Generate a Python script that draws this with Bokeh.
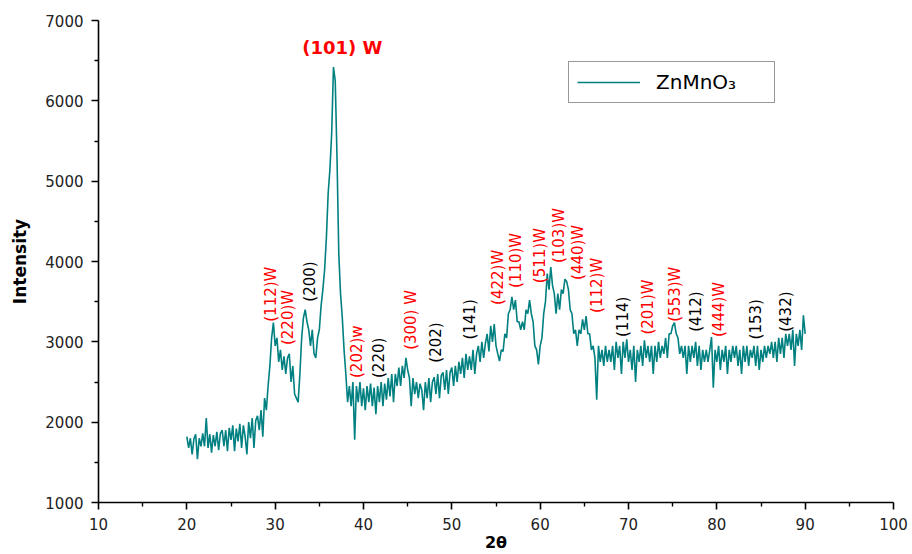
import numpy as np
from bokeh.plotting import figure
from bokeh.models import ColumnDataSource, Legend, LegendItem, FixedTicker
from bokeh.embed import file_html
from bokeh.resources import INLINE
from bokeh.core.properties import value

# ---- data (0.2 degree steps from 20 to 90) ----
two_theta = np.round(np.arange(20.0, 90.0001, 0.2), 1)
intensity = [
    1820, 1680, 1800, 1600, 1790,   # 20
    1850, 1540, 1800, 1700, 1860,   # 21
    1700, 2050, 1680, 1850, 1620,   # 22
    1840, 1700, 1880, 1650, 1860,   # 23
    1900, 1700, 1900, 1640, 1930,   # 24
    1780, 1960, 1640, 1920, 1760,   # 25
    1980, 1680, 1960, 1820, 1600,   # 26
    2000, 1800, 2050, 1680, 2020,   # 27
    2080, 1900, 2150, 1820, 2300,   # 28
    2150, 2450, 2700, 3050, 3240,   # 29
    2950, 3050, 2750, 2900, 2650,   # 30
    2820, 2600, 2800, 2850, 2500,   # 31
    2700, 2350, 2300, 2250, 2600,   # 32
    3050, 3300, 3400, 3250, 3150,   # 33
    2950, 3150, 2850, 2800, 3050,   # 34
    3150, 3450, 3650, 3900, 4300,   # 35
    4850, 5150, 5600, 6420, 6250,   # 36
    5300, 4100, 3600, 3300, 2900,   # 37
    2600, 2250, 2450, 2200, 2500,   # 38
    1780, 2450, 2250, 2500, 2200,   # 39
    2420, 2150, 2450, 2250, 2480,   # 40
    2200, 2430, 2100, 2450, 2250,   # 41
    2500, 2200, 2480, 2280, 2550,   # 42
    2320, 2600, 2250, 2600, 2450,   # 43
    2680, 2450, 2700, 2550, 2800,   # 44
    2650, 2550, 2200, 2550, 2350,   # 45
    2500, 2300, 2480, 2400, 2150,   # 46
    2500, 2300, 2550, 2250, 2500,   # 47
    2560, 2350, 2600, 2300, 2580,   # 48
    2620, 2400, 2650, 2350, 2620,   # 49
    2680, 2450, 2700, 2500, 2750,   # 50
    2600, 2800, 2550, 2850, 2650,   # 51
    2820, 2650, 2900, 2600, 2850,   # 52
    2950, 2750, 3000, 2800, 2980,   # 53
    3100, 2880, 3200, 3000, 3220,   # 54
    2950, 2850, 2760, 2900, 2880,   # 55
    3100, 3050, 3350, 3400, 3560,   # 56
    3400, 3520, 3250, 3250, 3150,   # 57
    3250, 3150, 3400, 3350, 3520,   # 58
    3350, 3250, 2950, 2900, 2720,   # 59
    2950, 3050, 3350, 3500, 3850,   # 60
    3650, 3930, 3700, 3600, 3350,   # 61
    3600, 3400, 3650, 3600, 3780,   # 62
    3750, 3650, 3400, 3350, 3100,   # 63
    3150, 2950, 3150, 3100, 3280,   # 64
    3150, 3320, 3100, 3100, 2900,   # 65
    2950, 2800, 2280, 2950, 2750,   # 66
    2900, 2700, 2950, 2750, 2900,   # 67
    2750, 2950, 2650, 3000, 2800,   # 68
    2950, 2600, 3000, 2800, 3030,   # 69
    2750, 2900, 2650, 2950, 2500,   # 70
    2900, 2750, 2950, 2700, 3020,   # 71
    2800, 2950, 2750, 2950, 2600,   # 72
    2950, 2750, 3000, 2800, 2950,   # 73
    2850, 3050, 2800, 3100, 3100,   # 74
    3200, 3240, 3100, 3050, 2850,   # 75
    2950, 2800, 2950, 2600, 2950,   # 76
    2750, 2950, 2800, 3000, 2700,   # 77
    2950, 2650, 2900, 2750, 2900,   # 78
    2750, 2900, 3060, 2430, 2900,   # 79
    2750, 2950, 2650, 2900, 2750,   # 80
    2950, 2600, 2900, 2750, 2950,   # 81
    2800, 2950, 2700, 2900, 2600,   # 82
    2950, 2750, 2950, 2700, 2900,   # 83
    2800, 2950, 2700, 2950, 2650,   # 84
    2900, 2750, 2950, 2800, 2950,   # 85
    2850, 3000, 2800, 3000, 2750,   # 86
    3050, 2850, 3050, 2800, 3100,   # 87
    2950, 3100, 2900, 3150, 2700,   # 88
    3100, 2950, 3150, 2900, 3330,   # 89
    3100,                           # 90
]
n = min(len(two_theta), len(intensity))
two_theta = two_theta[:n]
intensity = intensity[:n]

peak_text = ["(112)W", "(220)W", "(200)", "(202)w", "(220)", "(300) W", "(202)",
             "(141)", "(422)W", "(110)W", "(511)W", "(103)W", "(440)W", "(112)W",
             "(114)", "(201)W", "(553)W", "(412)", "(444)W", "(153)", "(432)"]
peak_x = [29.5, 31.5, 33.9, 39.3, 41.7, 45.4, 48.2,
          52.1, 55.2, 57.3, 60.0, 62.1, 64.3, 66.4,
          69.4, 72.2, 75.3, 77.6, 80.2, 84.4, 87.8]
peak_y = [3250, 2960, 3500, 2550, 2550, 2900, 2740,
          3030, 3460, 3670, 3730, 3980, 3770, 3360,
          3060, 3090, 3250, 3125, 3060, 3030, 3125]
peak_color = ["red", "red", "black", "red", "black", "red", "black",
              "black", "red", "red", "red", "red", "red", "red",
              "black", "red", "red", "black", "red", "black", "black"]

main_peak_text = ["(101) W"]
main_peak_x = [37.6]
main_peak_y = [6665]

x_ticks = list(range(10, 101, 10))
x_minor = list(range(15, 100, 10))
y_ticks = list(range(1000, 7001, 1000))
y_minor = list(range(1500, 7000, 1000))

series_name = "ZnMnO\u2083"

# ---- figure ----
p = figure(width=912, height=554, x_range=(10, 100), y_range=(1000, 7000),
           output_backend="svg", toolbar_location=None,
           min_border_left=98, min_border_right=19, min_border_top=20, min_border_bottom=51)
p.outline_line_color = None
p.grid.visible = False
p.background_fill_color = "white"
p.border_fill_color = "white"

line = p.line(two_theta, intensity, line_color="#008080", line_width=1.6)

src = ColumnDataSource(dict(x=peak_x, y=peak_y, text=peak_text, color=peak_color))
p.text(x="x", y="y", text="text", source=src, angle=np.pi / 2,
       text_color="color", text_font=value("DejaVu Sans"), text_font_size="15px",
       text_align="left", text_baseline="middle")

p.text(x=main_peak_x, y=main_peak_y, text=main_peak_text, text_color="red",
       text_font=value("DejaVu Sans"), text_font_size="18px", text_font_style="bold",
       text_align="center", text_baseline="middle")

for ax, ticks, minor in ((p.xaxis, x_ticks, x_minor), (p.yaxis, y_ticks, y_minor)):
    ax.ticker = FixedTicker(ticks=ticks, minor_ticks=minor)
    ax.axis_line_color = "black"
    ax.axis_line_width = 1.6
    ax.major_tick_line_color = "black"
    ax.major_tick_line_width = 1.6
    ax.minor_tick_line_color = "black"
    ax.minor_tick_line_width = 1.4
    ax.major_tick_in = 0
    ax.major_tick_out = 7
    ax.minor_tick_in = 0
    ax.minor_tick_out = 4
    ax.major_label_text_font = "DejaVu Sans"
    ax.major_label_text_font_size = "15px"
    ax.major_label_text_color = "#222222"
    ax.axis_label_text_font = "DejaVu Sans"
    ax.axis_label_text_font_style = "bold"
    ax.axis_label_text_color = "black"

p.xaxis.axis_label = "2\u03b8"
p.xaxis.axis_label_text_font_size = "16px"
p.xaxis.axis_label_standoff = 0
p.xaxis.major_label_standoff = 8
p.yaxis.axis_label = "Intensity"
p.yaxis.axis_label_text_font_size = "17px"
p.yaxis.axis_label_standoff = 12
p.yaxis.major_label_standoff = 8

legend = Legend(items=[LegendItem(label=series_name, renderers=[line])],
                location=(470, 399), orientation="vertical",
                border_line_color="#333333", border_line_width=1.5,
                background_fill_alpha=1.0, padding=8, margin=0, spacing=0,
                glyph_width=63, glyph_height=24, label_width=110, label_height=24,
                label_standoff=16, label_text_font="DejaVu Sans",
                label_text_font_size="20px", label_text_color="black")
p.add_layout(legend, "center")

open("out.html", "w").write(file_html(p, INLINE))
